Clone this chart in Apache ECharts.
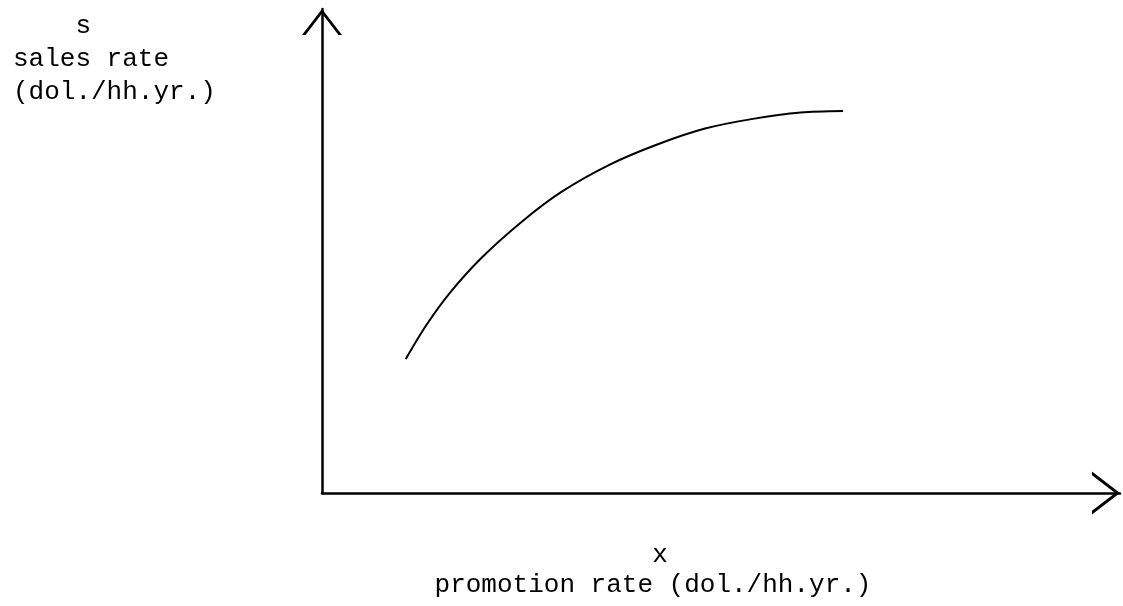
<!DOCTYPE html>
<html>
<head>
<meta charset="utf-8">
<script src="https://cdn.jsdelivr.net/npm/echarts@6/dist/echarts.min.js"></script>
<style>
  html, body { margin: 0; padding: 0; background: #ffffff; }
  #chart { width: 1123px; height: 606px; }
</style>
</head>
<body>
<div id="chart"></div>
<script>
// Promotion rate (x) and sales rate (s), arbitrary units
const promotionRate = [10.5, 13.0, 16.0, 20.0, 25.0, 30.0, 36.0, 42.0, 48.0, 54.0, 60.0, 65.3];
const salesRate     = [27.7, 34.5, 41.3, 48.6, 56.0, 62.2, 67.8, 72.0, 75.3, 77.3, 78.6, 78.9];

const yTitleLines = ['    s', 'sales rate', '(dol./hh.yr.)'];
const xSymbol = 'x';
const xTitle = 'promotion rate (dol./hh.yr.)';

const points = promotionRate.map((v, i) => [v, salesRate[i]]);

const font = '"Liberation Mono", "DejaVu Sans Mono", monospace';
const chevronUpY = 'path://M0,26 L20,0 L40,26 L36.5,26 L20,4.5 L3.5,26 Z';

const chart = echarts.init(document.getElementById('chart'), null, { renderer: 'canvas' });
chart.setOption({
  animation: false,
  backgroundColor: '#ffffff',
  grid: { left: 322, right: 3, top: 9, bottom: 113, containLabel: false },
  xAxis: {
    type: 'value', min: 0, max: 100,
    axisLine: {
      show: true,
      lineStyle: { color: '#000', width: 2.5 },
      symbol: ['none', chevronUpY],
      symbolSize: [44, 28],
      symbolOffset: [0, -14]
    },
    axisTick: { show: false }, axisLabel: { show: false }, splitLine: { show: false }
  },
  yAxis: {
    type: 'value', min: 0, max: 100,
    axisLine: {
      show: true,
      lineStyle: { color: '#000', width: 2.5 },
      symbol: ['none', chevronUpY],
      symbolSize: [40, 26],
      symbolOffset: [0, -13]
    },
    axisTick: { show: false }, axisLabel: { show: false }, splitLine: { show: false }
  },
  series: [{
    type: 'line',
    data: points,
    smooth: 0.3,
    showSymbol: false,
    lineStyle: { color: '#000', width: 2 }
  }],
  graphic: [
    {
      type: 'text', left: 13, top: 10,
      style: { text: yTitleLines.join('\n'), font: '26px ' + font, fill: '#000', lineHeight: 33 }
    },
    {
      type: 'text', x: 660, y: 555,
      style: { text: xSymbol, font: '26px ' + font, fill: '#000', align: 'center', verticalAlign: 'middle' }
    },
    {
      type: 'text', x: 653, y: 585,
      style: { text: xTitle, font: '26px ' + font, fill: '#000', align: 'center', verticalAlign: 'middle' }
    }
  ]
});
</script>
</body>
</html>
